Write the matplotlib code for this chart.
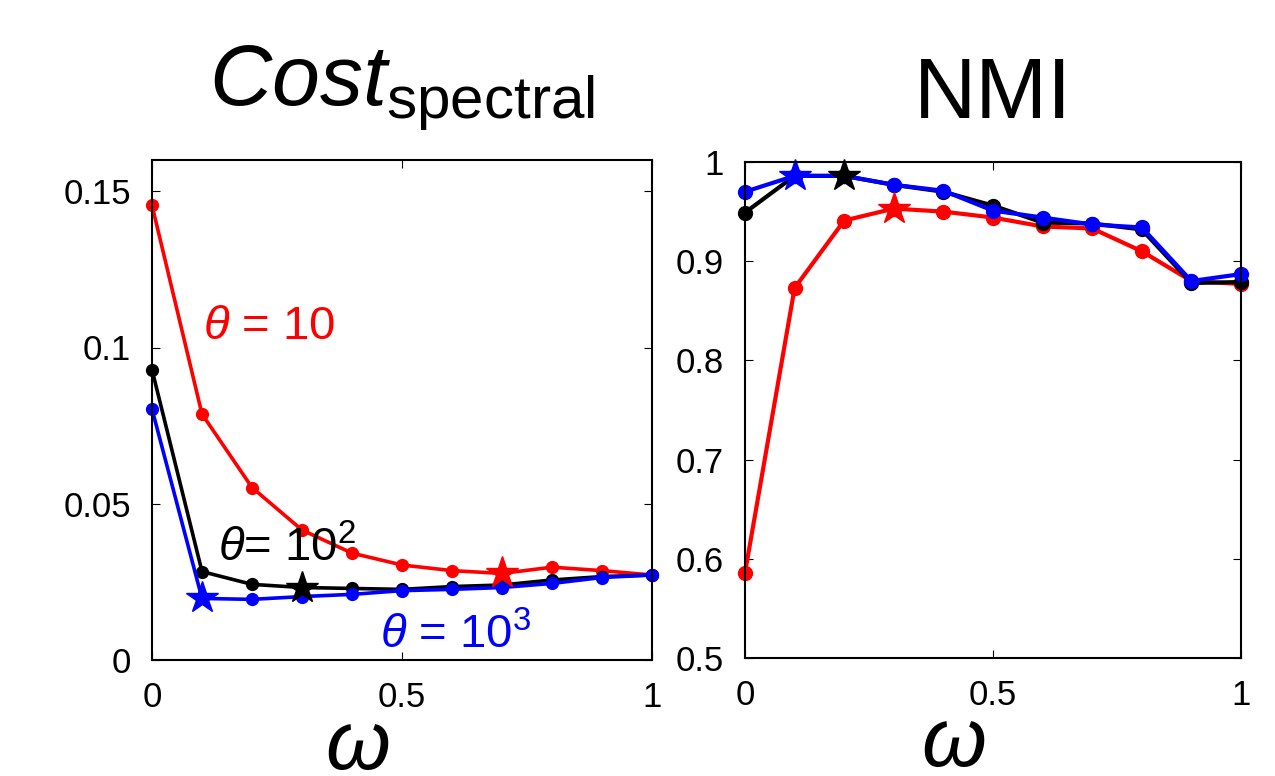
import numpy as np
import matplotlib
matplotlib.use('Agg')
import matplotlib.pyplot as plt

plt.rcParams['font.family'] = ['Liberation Sans', 'DejaVu Sans']
plt.rcParams['mathtext.fontset'] = 'custom'
plt.rcParams['mathtext.rm'] = 'Liberation Sans'
plt.rcParams['mathtext.it'] = 'Liberation Sans:italic'

omega = np.round(np.arange(0, 1.01, 0.1), 1)

# Cost_spectral
cost_t10 = [0.1455, 0.0787, 0.0552, 0.0416, 0.0342, 0.0304, 0.0286, 0.0277, 0.0297, 0.0286, 0.0272]
cost_t100 = [0.0929, 0.0283, 0.0242, 0.0232, 0.0229, 0.0226, 0.0235, 0.0240, 0.0256, 0.0267, 0.0272]
cost_t1000 = [0.0803, 0.0197, 0.0194, 0.0203, 0.0210, 0.0222, 0.0226, 0.0232, 0.0245, 0.0264, 0.0272]
cost_best = [7, 3, 1]  # index of star per series

# NMI
nmi_t10 = [0.586, 0.873, 0.941, 0.953, 0.950, 0.944, 0.935, 0.933, 0.910, 0.880, 0.877]
nmi_t100 = [0.949, 0.986, 0.986, 0.977, 0.970, 0.956, 0.939, 0.938, 0.932, 0.878, 0.879]
nmi_t1000 = [0.970, 0.986, 0.986, 0.977, 0.971, 0.951, 0.944, 0.937, 0.934, 0.880, 0.887]
nmi_best = [3, 2, 1]

colors = ['#ff0000', '#000000', '#0000ff']

fig = plt.figure(figsize=(12.75, 7.76), dpi=100)
ax1 = fig.add_axes([152 / 1275, 1 - 660 / 776, 500 / 1275, 500 / 776])
ax2 = fig.add_axes([745 / 1275, 1 - 658 / 776, 496 / 1275, 496 / 776])


def draw(ax, series, best, lw, ms, xlab_x):
    for ys, c in zip(series, colors):
        ax.plot(omega, ys, '-o', color=c, lw=lw, ms=ms, clip_on=False)
    for ys, c, b in zip(series, colors, best):
        ax.plot(omega[b], ys[b], '*', color=c, ms=24, clip_on=False)
    ax.set_xlim(0, 1)
    ax.set_xticks([0, 0.5, 1])
    ax.set_xticklabels(['0', '0.5', '1'])
    ax.tick_params(direction='in', top=True, right=True, labelsize=25, length=6, pad=15)
    for s in ax.spines.values():
        s.set_linewidth(1.5)
    ax.set_xlabel(r'$\omega$', fontsize=60)
    ax.xaxis.set_label_coords(xlab_x, -0.095)
    ax.xaxis.label.set_va('top')


draw(ax1, [cost_t10, cost_t100, cost_t1000], cost_best, 2.6, 8.5, 0.41)
ax1.set_ylim(0, 0.16)
ax1.set_yticks([0, 0.05, 0.1, 0.15])
ax1.set_yticklabels(['0', '0.05', '0.1', '0.15'])
ax1.set_title(r'$Cost_{\mathrm{spectral}}$', fontsize=62, pad=40)

ax1.text(0.102, 0.1027, r'$\theta$ = 10', color=colors[0], fontsize=34)
ax1.text(0.132, 0.0314, r'$\theta$= 10$^2$', color=colors[1], fontsize=34)
ax1.text(0.456, 0.0038, r'$\theta$ = 10$^3$', color=colors[2], fontsize=34)

draw(ax2, [nmi_t10, nmi_t100, nmi_t1000], nmi_best, 3.0, 10, 0.42)
ax2.set_ylim(0.5, 1)
ax2.set_yticks([0.5, 0.6, 0.7, 0.8, 0.9, 1.0])
ax2.set_yticklabels(['0.5', '0.6', '0.7', '0.8', '0.9', '1'])
ax2.set_title('NMI', fontsize=62, pad=32)

fig.savefig('out.png', dpi=100)
